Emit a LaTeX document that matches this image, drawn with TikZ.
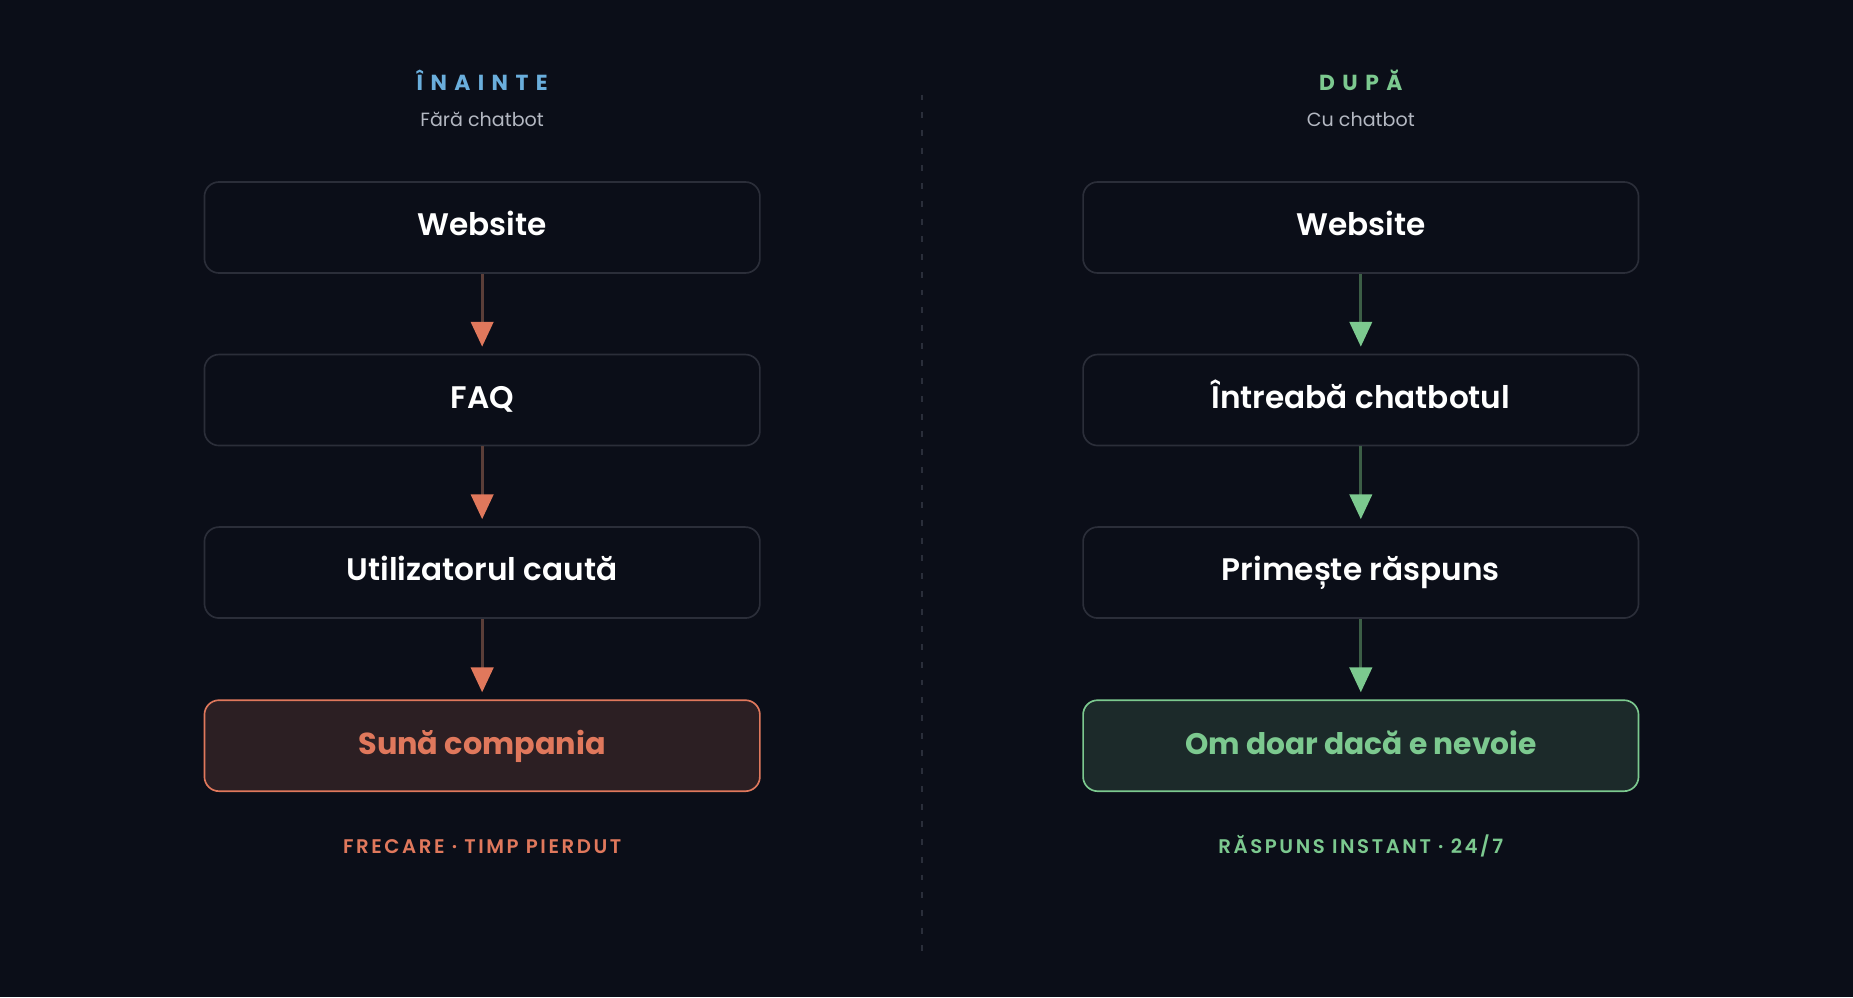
\documentclass[tikz,border=0pt]{standalone}
\usepackage{fontspec}
\setmainfont{Poppins}
\newfontfamily\semifont{Poppins SemiBold}
\usetikzlibrary{positioning,arrows.meta}

\definecolor{bgcol}{HTML}{0B0E18}
\definecolor{boxline}{HTML}{2B2E39}
\definecolor{warm}{HTML}{E0785C}
\definecolor{warmfill}{HTML}{2C1F23}
\definecolor{warmline}{HTML}{5B3E38}
\definecolor{cool}{HTML}{7CC98F}
\definecolor{coolfill}{HTML}{1C2A2A}
\definecolor{coolline}{HTML}{3C5E46}
\definecolor{headblue}{HTML}{6AAEDC}
\definecolor{subgrey}{HTML}{B4B8C2}
\definecolor{divider}{HTML}{2A2E3A}

\tikzset{
  stepbox/.style={draw=boxline, fill=bgcol, rounded corners=7pt, line width=0.8pt,
    minimum width=9.4cm, minimum height=1.54cm, text=white,
    text height=0.9em, text depth=0.1em,
    font=\semifont\fontsize{15}{18}\selectfont},
  warmbox/.style={stepbox, draw=warm, fill=warmfill, text=warm, font=\bfseries\fontsize{14.6}{18}\selectfont},
  coolbox/.style={stepbox, draw=cool, fill=coolfill, text=cool, font=\bfseries\fontsize{14.3}{18}\selectfont},
  warmarrow/.style={draw=warmline, line width=1.3pt, shorten >=0.12cm,
    -{Triangle[length=0.42cm, width=0.38cm, color=warm]}},
  coolarrow/.style={draw=coolline, line width=1.3pt, shorten >=0.12cm,
    -{Triangle[length=0.42cm, width=0.38cm, color=cool]}},
  headtext/.style={font=\bfseries\fontsize{10.5}{12}\selectfont\addfontfeatures{LetterSpace=34}},
  subtext/.style={text=subgrey, font=\fontsize{9.2}{11}\selectfont},
  foottext/.style={font=\semifont\fontsize{9.5}{11}\selectfont\addfontfeatures{LetterSpace=13}}
}

\begin{document}
\begin{tikzpicture}
\fill[bgcol] (0,0) rectangle (31.36,-16.88);
\useasboundingbox (0,0) rectangle (31.36,-16.88);

% divider
\draw[divider, line width=1pt, dash pattern=on 0.1cm off 0.2cm] (15.6,-1.6) -- (15.6,-16.2);

% before
\node[headtext, text=headblue] (lhead) at (8.16,-1.36) {ÎNAINTE};
\node[subtext] (lsub) at (8.16,-2.02) {Fără chatbot};
\node[stepbox] (lweb) at (8.16,-3.85) {Website};
\node[stepbox] (lfaq) at (8.16,-6.77) {FAQ};
\node[stepbox] (lsearch) at (8.16,-9.69) {Utilizatorul caută};
\node[warmbox] (lcall) at (8.16,-12.62) {Sună compania};
\node[foottext, text=warm] (lfoot) at (8.16,-14.32) {FRECARE · TIMP PIERDUT};

\draw[warmarrow] (lweb) -- (lfaq);
\draw[warmarrow] (lfaq) -- (lsearch);
\draw[warmarrow] (lsearch) -- (lcall);

% after
\node[headtext, text=cool] (rhead) at (23.03,-1.36) {DUPĂ};
\node[subtext] (rsub) at (23.03,-2.02) {Cu chatbot};
\node[stepbox] (rweb) at (23.03,-3.85) {Website};
\node[stepbox] (rask) at (23.03,-6.77) {Întreabă chatbotul};
\node[stepbox] (rget) at (23.03,-9.69) {Primește răspuns};
\node[coolbox] (rhuman) at (23.03,-12.62) {Om doar dacă e nevoie};
\node[foottext, text=cool] (rfoot) at (23.03,-14.32) {RĂSPUNS INSTANT · 24/7};

\draw[coolarrow] (rweb) -- (rask);
\draw[coolarrow] (rask) -- (rget);
\draw[coolarrow] (rget) -- (rhuman);
\end{tikzpicture}
\end{document}
